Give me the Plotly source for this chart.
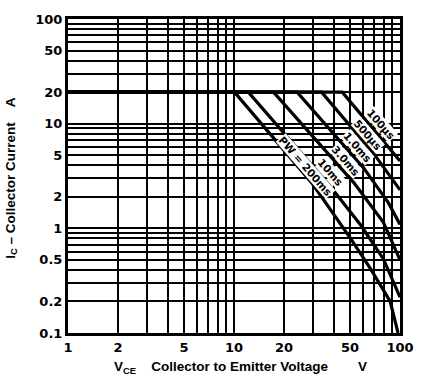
import numpy as np
import plotly.graph_objects as go

# ---------------- data ----------------
# Safe-operating-area curves: V_CE (V) vs I_C (A)
v_100us = [1, 44.9, 100]
i_100us = [20, 20, 4.4]
v_500us = [1, 33.7, 69.3, 100]
i_500us = [20, 20, 5.2, 2.33]
v_1ms = [1, 24.0, 60.5, 85.0, 100]
i_1ms = [20, 20, 3.76, 1.76, 1.09]
v_3ms = [1, 17.3, 52.8, 79.4, 100]
i_3ms = [20, 20, 2.72, 1.14, 0.50]
v_10ms = [1, 12.2, 38.6, 58.1, 79.4, 100]
i_10ms = [20, 20, 2.44, 1.07, 0.51, 0.22]
v_200ms = [1, 10.07, 29.4, 50.7, 66.5, 87.3, 97.3]
i_200ms = [20, 20, 2.72, 0.79, 0.41, 0.20, 0.10]

curve_labels = ["100µs", "500µs", "1.0ms", "3.0ms", "10ms", "PW = 200ms"]

x_tick_values = [1, 2, 3, 4, 5, 6, 7, 8, 9, 10, 20, 30, 40, 50, 60, 70, 80, 90, 100]
x_tick_labels = ["1", "2", "", "", "5", "", "", "", "", "10", "20", "", "", "50", "", "", "", "", "100"]
y_tick_values = [0.1, 0.2, 0.3, 0.4, 0.5, 0.6, 0.7, 0.8, 0.9,
                 1, 2, 3, 4, 5, 6, 7, 8, 9,
                 10, 20, 30, 40, 50, 60, 70, 80, 90, 100]
y_tick_labels = ["0.1", "0.2", "", "", "0.5", "", "", "", "",
                 "1", "2", "", "", "5", "", "", "", "",
                 "10", "20", "", "", "50", "", "", "", "", "100"]

# ---------------- styling ----------------
curves = [(v_100us, i_100us), (v_500us, i_500us), (v_1ms, i_1ms),
          (v_3ms, i_3ms), (v_10ms, i_10ms), (v_200ms, i_200ms)]
label_t = [0.55, 0.78, 0.80, 0.82, 0.90, 0.86]    # position along first sloped segment
label_off = [9, 8, 9.5, 9, 10, 6]                 # perpendicular pixel offset

fig = go.Figure()
ang = 49
for (v, i), lab, t, d in zip(curves, curve_labels, label_t, label_off):
    lx = np.log10(v[1]) + t * (np.log10(v[2]) - np.log10(v[1]))
    ly = np.log10(i[1]) + t * (np.log10(i[2]) - np.log10(i[1]))
    fig.add_annotation(x=lx, y=ly, xref="x", yref="y", text="<b>%s</b>" % lab,
                       showarrow=False, textangle=ang,
                       xshift=d * np.sin(np.radians(ang)),
                       yshift=d * np.cos(np.radians(ang)),
                       bgcolor="white", borderpad=0,
                       font=dict(family="DejaVu Sans", size=10.5, color="black"))

for v, i in curves:
    fig.add_trace(go.Scatter(x=v, y=i, mode="lines",
                             line=dict(color="black", width=3.2),
                             hoverinfo="skip", showlegend=False))

tick_font = dict(family="DejaVu Sans", size=13, color="black", weight="bold")
fig.update_xaxes(type="log", range=[0, 2], tickvals=x_tick_values, ticktext=x_tick_labels,
                 showgrid=True, gridcolor="black", gridwidth=1.5,
                 showline=True, linecolor="black", linewidth=3, mirror=True,
                 ticks="", tickfont=tick_font, zeroline=False)
fig.update_yaxes(type="log", range=[-1, 2], tickvals=y_tick_values, ticktext=y_tick_labels,
                 showgrid=True, gridcolor="black", gridwidth=1.5,
                 showline=True, linecolor="black", linewidth=3, mirror=True,
                 ticks="", tickfont=tick_font, zeroline=False)

title_font = dict(family="Liberation Sans", size=13.5, color="black", weight="bold")
fig.add_annotation(xref="paper", yref="paper", x=0.52, y=-0.11, showarrow=False,
                   text="V<sub>CE</sub>\u00a0\u00a0\u00a0\u00a0Collector to Emitter Voltage\u00a0\u00a0\u00a0\u00a0\u00a0\u00a0\u00a0\u00a0V",
                   font=title_font, xanchor="center", yanchor="middle")
fig.add_annotation(xref="paper", yref="paper", x=-0.171, y=0.495, showarrow=False,
                   text="I<sub>C</sub>\u00a0\u2013 Collector Current\u00a0\u00a0\u00a0\u00a0A",
                   textangle=-90, font=title_font, xanchor="center", yanchor="middle")

fig.update_layout(width=426, height=383, margin=dict(l=68, r=19, t=14, b=50),
                  plot_bgcolor="white", paper_bgcolor="white")
fig.write_html("out.html")
